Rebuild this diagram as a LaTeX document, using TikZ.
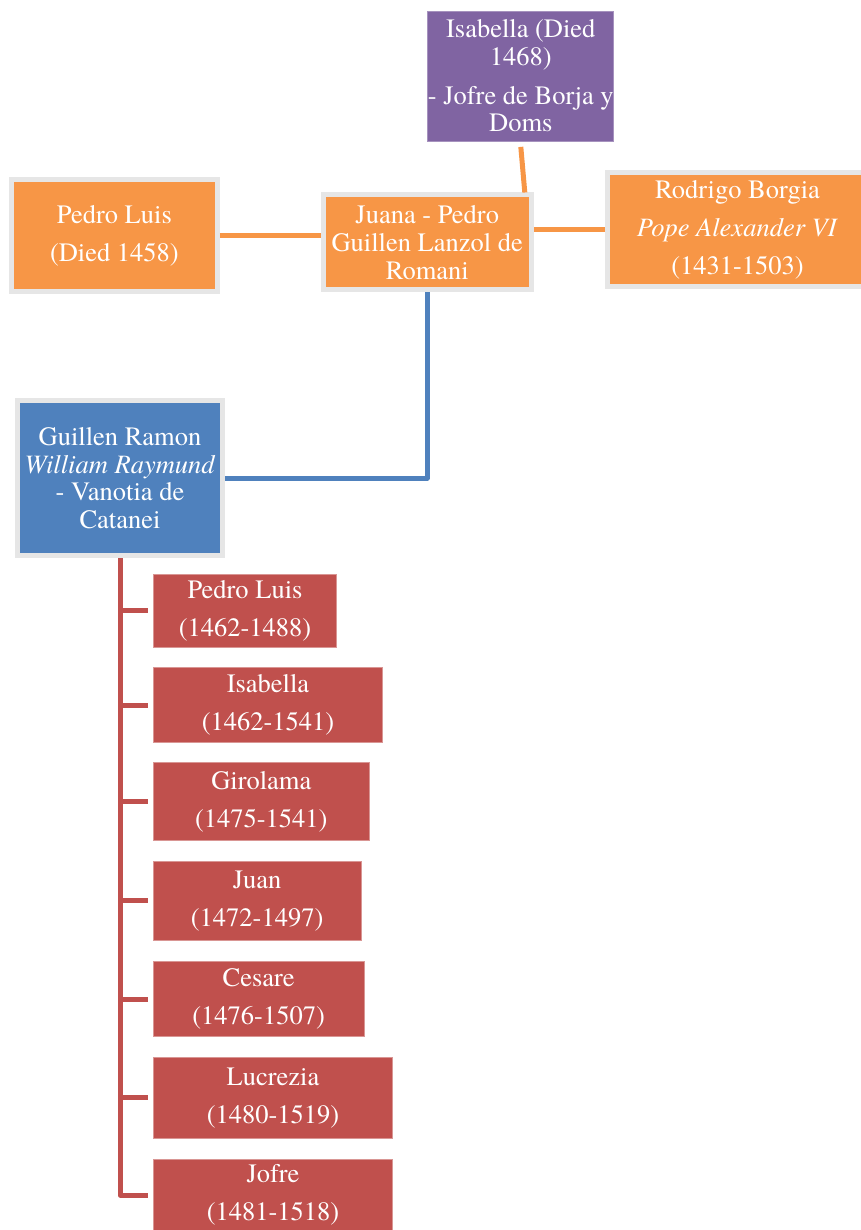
\documentclass[tikz,border=0pt]{standalone}
\usepackage{fontspec}
\setmainfont{texgyretermes}[Extension=.otf, UprightFont=*-regular, ItalicFont=*-italic, BoldFont=*-bold, BoldItalicFont=*-bolditalic]
\usetikzlibrary{calc}
\definecolor{orng}{HTML}{F79646}
\definecolor{purp}{HTML}{8064A2}
\definecolor{blu}{HTML}{4F81BD}
\definecolor{redc}{HTML}{C0504D}
\definecolor{frame}{HTML}{E6E6E6}
\begin{document}
\begin{tikzpicture}[x=1pt,y=-1pt,
  box/.style={rectangle, inner sep=0pt, text=white, align=center,
    font=\fontsize{26.5}{27.7}\selectfont},
  wide/.style={font=\fontsize{26.5}{38}\selectfont},
  framed/.style={box, draw=frame, line width=5pt, outer sep=2.5pt},
  kid/.style={box, wide, fill=redc, draw=redc!60!white, line width=0.8pt},
  oline/.style={draw=orng, line width=5pt},
  bline/.style={draw=blu, line width=5pt, line join=round},
  rline/.style={draw=redc, line width=5pt, line join=round}]
\useasboundingbox (0,0) rectangle (860,1230);

% top generation
\node[box, fill=purp, draw=purp!70!white, line width=0.8pt,
  minimum width=185pt, minimum height=130pt] (isa) at (520.8,76)
  {Isabella (Died\\1468)\\[11pt]- Jofre de Borja y\\Doms};
\node[framed, wide, fill=orng, minimum width=206pt, minimum height=112pt] (pedro) at (114.4,235.5)
  {Pedro Luis\\(Died 1458)};
\node[framed, fill=orng, minimum width=208.5pt, minimum height=95pt] (juana) at (427.25,242.5)
  {Juana - Pedro\\Guillen Lanzol de\\Romani};
\node[framed, wide, fill=orng, minimum width=260pt, minimum height=114pt] (rodrigo) at (737.5,230)
  {Rodrigo Borgia\\\textit{Pope Alexander VI}\\(1431-1503)};
\node[framed, fill=blu, minimum width=205pt, minimum height=155pt] (guil) at (120,478)
  {Guillen Ramon\\\textit{William Raymund}\\- Vanotia de\\Catanei};

% children
\node[kid, minimum width=183.4pt, minimum height=73.3pt] (k1) at (245,610.7) {Pedro Luis\\(1462-1488)};
\node[kid, minimum width=229.4pt, minimum height=74.6pt] (k2) at (268,705) {Isabella\\(1462-1541)};
\node[kid, minimum width=216pt, minimum height=77.3pt] (k3) at (261.3,801.35) {Girolama\\(1475-1541)};
\node[kid, minimum width=207.7pt, minimum height=79.7pt] (k4) at (257.15,900.85) {Juan\\(1472-1497)};
\node[kid, minimum width=210.7pt, minimum height=75pt] (k5) at (258.65,999.2) {Cesare\\(1476-1507)};
\node[kid, minimum width=239.4pt, minimum height=81pt] (k6) at (273,1097.8) {Lucrezia\\(1480-1519)};
\node[kid, minimum width=239.4pt, minimum height=72pt] (k7) at (273,1195) {Jofre\\(1481-1518)};

% connectors
\coordinate (isafoot) at ($(isa.south)+(0,5.5)$);
\coordinate (juanatop) at ($(isa.south |- juana.north)+(4,0)$);
\draw[oline] (isafoot) -- (juanatop);
\draw[oline] (pedro.east) -- (pedro.east -| juana.west);
\draw[oline] (rodrigo.west) -- (rodrigo.west -| juana.east);
\draw[bline] (juana.south) |- (guil.east);
\draw[rline, shorten >=5pt] (guil.south) |- (k7.west);
\foreach \k in {k1,k2,k3,k4,k5,k6}
  \draw[rline, shorten >=5pt] (guil.south |- \k.west) -- (\k.west);
\end{tikzpicture}
\end{document}
